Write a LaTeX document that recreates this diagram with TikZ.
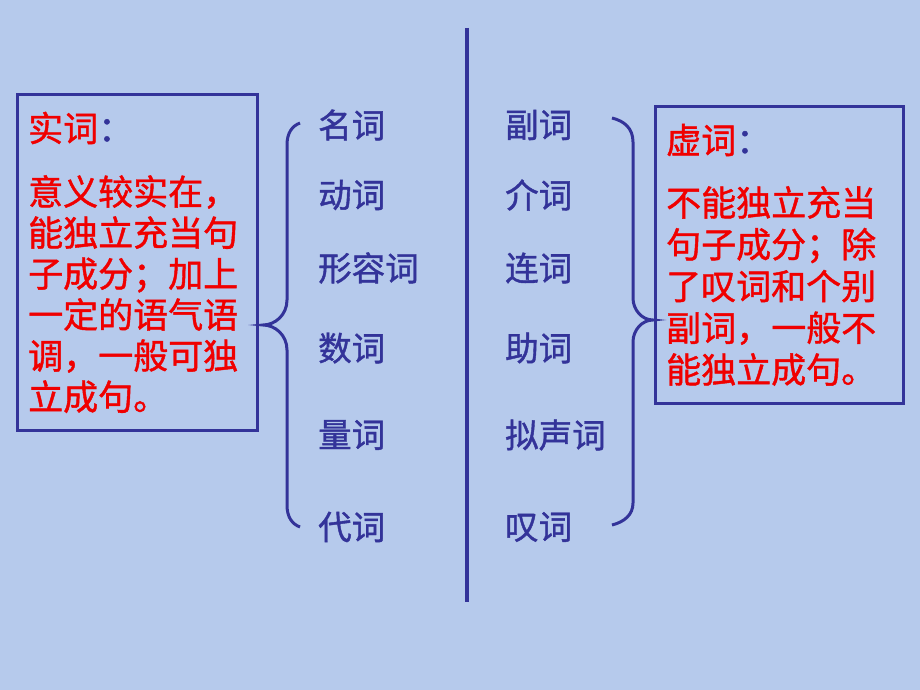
\documentclass[tikz,border=0pt]{standalone}
\usepackage{fontspec}
\newfontfamily\cjk[FakeBold=1.2]{Noto Sans CJK SC}
\definecolor{bgblue}{RGB}{182,202,236}
\definecolor{ink}{RGB}{51,51,153}
\definecolor{hong}{RGB}{240,0,0}
\tikzset{
  kbox/.style={draw=ink, line width=3pt, minimum width=#1},
  word/.style={anchor=west, text=ink, inner sep=0pt, font=\cjk\fontsize{33.5}{33.5}\selectfont},
  title/.style={anchor=west, text=hong, inner sep=0pt, font=\cjk\fontsize{35}{35}\selectfont},
  body/.style={anchor=north west, text=hong, inner sep=0pt, align=left,
    font=\cjk\fontsize{35}{41}\selectfont},
  brace/.style={draw=ink, line width=3pt}
}
\begin{document}
\begin{tikzpicture}[x=1pt, y=-1pt]
  \fill[bgblue] (0,0) rectangle (920,690);
  \useasboundingbox (0,0) rectangle (920,690);
  % boxes
  \node[kbox=240pt, minimum height=335pt] (shi) at (137,262.5) {};
  \node[kbox=248pt, minimum height=296pt] (xu) at (779,255) {};
  \node[title] (shititle) at (28,128) {实词\textcolor{ink}{：}};
  \node[body] (shibody) at (28,175) {意义较实在，\\能独立充当句\\子成分；加上\\一定的语气语\\调，一般可独\\立成句。};
  \node[title] (xutitle) at (666,140) {虚词\textcolor{ink}{：}};
  \node[body, font=\cjk\fontsize{35}{41.75}\selectfont] (xubody) at (666,186) {不能独立充当\\句子成分；除\\了叹词和个别\\副词，一般不\\能独立成句。};
  % divider
  \coordinate (top) at (467,28);
  \coordinate (bot) at (467,602);
  \draw[ink, line width=4pt] (top) -- (bot);
  % word columns
  \node[word] (ming) at (318,125) {名词};
  \node[word] (dong) at (318,195) {动词};
  \node[word] (xing) at (318,268) {形容词};
  \node[word] (shu) at (318,348) {数词};
  \node[word] (liang) at (318,435) {量词};
  \node[word] (dai) at (318,527) {代词};
  \node[word] (fu) at (505,125) {副词};
  \node[word] (jie) at (505,195) {介词};
  \node[word] (lian) at (505,268) {连词};
  \node[word] (zhu) at (505,348) {助词};
  \node[word] (ni) at (505,435) {拟声词};
  \node[word] (tan) at (505,527) {叹词};
  % braces
  \draw[brace] (300,123) .. controls (292,126) and (287,133) .. (287,145)
    -- (287,300) .. controls (287,315) and (275,325) .. (263,325)
    .. controls (275,325) and (287,335) .. (287,350)
    -- (287,505) .. controls (287,517) and (292,524) .. (300,527);
  \draw[brace] (612,118) .. controls (624,121) and (633,128) .. (633,142)
    -- (633,298) .. controls (633,310) and (642,320) .. (653,320)
    .. controls (642,320) and (633,330) .. (633,342)
    -- (633,503) .. controls (633,515) and (624,522) .. (612,525);
\end{tikzpicture}
\end{document}
